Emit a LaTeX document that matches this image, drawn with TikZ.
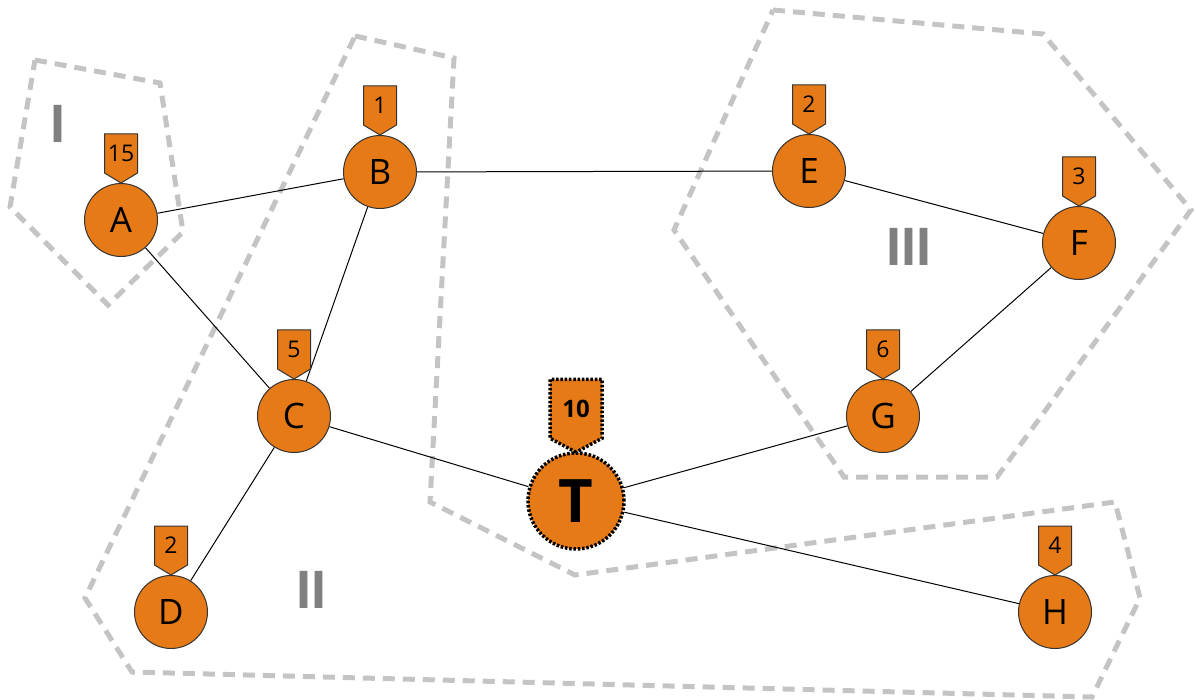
\documentclass[tikz,border=0pt]{standalone}
\usepackage{fontspec}
\setmainfont{Open Sans}
\newfontfamily\regionfont{Liberation Sans}
\usetikzlibrary{calc}
\pgfdeclarelayer{bg}
\pgfsetlayers{bg,main}
\definecolor{nodeorange}{RGB}{230,122,23}
\definecolor{hullgray}{RGB}{196,196,196}
\definecolor{labelgray}{RGB}{128,128,128}
\tikzset{
  vertex/.style={circle, draw=black!80, line width=1pt, fill=nodeorange, minimum size=73pt, inner sep=0pt, font=\fontsize{35}{35}\selectfont},
  target/.style={circle, draw=black, line width=3.5pt, dash pattern=on 2.5pt off 1.8pt, fill=nodeorange, minimum size=96pt, inner sep=0pt, font=\bfseries\fontsize{60}{60}\selectfont},
  badgeshape/.style={draw=black!80, line width=1pt, fill=nodeorange, line join=miter},
  tbadgeshape/.style={draw=black, line width=3.5pt, dash pattern=on 2.5pt off 1.8pt, fill=nodeorange},
  badgetext/.style={inner sep=0pt, font=\fontsize{23}{23}\selectfont},
  tbadgetext/.style={inner sep=0pt, font=\bfseries\fontsize{24}{24}\selectfont},
  hull/.style={draw=hullgray, line width=5pt, dash pattern=on 12pt off 8pt, line join=miter},
  region/.style={text=labelgray, font=\regionfont\bfseries\fontsize{54}{54}\selectfont, inner sep=0pt},
  link/.style={draw=black, line width=1pt},
}
\newcommand\smallbadge[3]{%
  \draw[badgeshape] (#2.north) -- ++(-16.5,-10) -- ++(0,-39) -- ++(33,0) -- ++(0,39) -- cycle;
  \node[badgetext] (#1) at ($(#2.north)+(0,-29.5)$) {#3};
}
\begin{document}
\begin{tikzpicture}[x=1pt,y=-1pt]
\useasboundingbox (0,0) rectangle (1196,700);
% vertices
\node[vertex] (A) at (121,220) {A};
\node[vertex] (B) at (380,172) {B};
\node[vertex] (C) at (294,416) {C};
\node[vertex] (D) at (171,612) {D};
\node[vertex] (E) at (809,171) {E};
\node[vertex] (F) at (1079,243) {F};
\node[vertex] (G) at (883,416) {G};
\node[vertex] (H) at (1055,612) {H};
\node[target] (T) at (576,501) {T};
% badges
\smallbadge{bA}{A}{15}
\smallbadge{bB}{B}{1}
\smallbadge{bC}{C}{5}
\smallbadge{bD}{D}{2}
\smallbadge{bE}{E}{2}
\smallbadge{bF}{F}{3}
\smallbadge{bG}{G}{6}
\smallbadge{bH}{H}{4}
\draw[tbadgeshape] ($(T.north)+(0,1)$) -- ++(-26,-14) -- ++(0,-59) -- ++(52,0) -- ++(0,59) -- cycle;
\node[tbadgetext] (bT) at ($(T.north)+(0,-42)$) {10};
% region labels
\node[region] (rI) at (58,124) {I};
\node[region] (rII) at (311,590) {II};
\node[region] (rIII) at (909,247) {III};
\begin{pgfonlayer}{bg}
  \draw[hull] (35,60) -- (160,83) -- (183,232) -- (108,305) -- (10,207) -- cycle;
  \draw[hull] (355,36) -- (454,58) -- (430,502) -- (575,575) -- (1115,502) -- (1140,598) -- (1092,697) -- (132,672) -- (85,598) -- cycle;
  \draw[hull] (773,10) -- (1043,34) -- (1191,210) -- (997,477) -- (844,477) -- (674,230) -- cycle;
  \draw[link] (A) -- (B);
  \draw[link] (A) -- (C);
  \draw[link] (B) -- (C);
  \draw[link] (B) -- (E);
  \draw[link] (E) -- (F);
  \draw[link] (F) -- (G);
  \draw[link] (C) -- (D);
  \draw[link] (C) -- (T);
  \draw[link] (T) -- (G);
  \draw[link] (T) -- (H);
\end{pgfonlayer}
\end{tikzpicture}
\end{document}
